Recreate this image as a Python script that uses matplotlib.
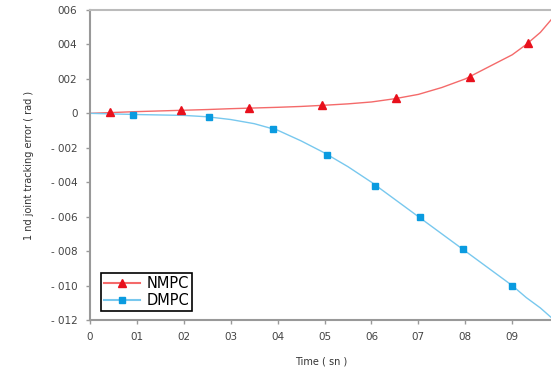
import matplotlib.pyplot as plt
from matplotlib.lines import Line2D

# curve samples
t_line = [0.0, 0.1, 0.2, 0.25, 0.3, 0.35, 0.4, 0.45, 0.5, 0.55, 0.6, 0.65,
          0.7, 0.75, 0.8, 0.85, 0.9, 0.93, 0.96, 0.985]
nmpc_line = [0.0, 0.0001, 0.00018, 0.00022, 0.00027, 0.00031, 0.00035, 0.0004,
             0.00047, 0.00055, 0.00066, 0.00085, 0.0011, 0.0015, 0.002,
             0.0027, 0.0034, 0.004, 0.0047, 0.0055]
dmpc_line = [0.0, -0.00007, -0.00012, -0.0002, -0.00036, -0.0006, -0.00098,
             -0.0016, -0.0023, -0.0031, -0.004, -0.005, -0.006, -0.007,
             -0.008, -0.009, -0.0100, -0.0107, -0.0113, -0.0119]

# marker positions
t_nmpc = [0.043, 0.194, 0.338, 0.494, 0.652, 0.810, 0.934]
nmpc_pts = [0.00006, 0.00017, 0.0003, 0.00046, 0.00087, 0.0021, 0.0041]
t_dmpc = [0.092, 0.254, 0.391, 0.506, 0.607, 0.703, 0.795, 0.900]
dmpc_pts = [-0.0001, -0.0002, -0.0009, -0.0024, -0.0042, -0.0060, -0.0079, -0.0100]

xticks = [0, 0.1, 0.2, 0.3, 0.4, 0.5, 0.6, 0.7, 0.8, 0.9]
xlabels = ['0', '01', '02', '03', '04', '05', '06', '07', '08', '09']
yticks = [0.006, 0.004, 0.002, 0, -0.002, -0.004, -0.006, -0.008, -0.010, -0.012]
ylabels = ['006', '004', '002', '0', '- 002', '- 004', '- 006', '- 008', '- 010', '- 012']

red_line, red_mk = '#f46a6a', '#e8101c'
blue_line, blue_mk = '#78c8ee', '#0a9be0'

fig = plt.figure(figsize=(5.51, 3.69), dpi=100)
ax = fig.add_axes([90/551, 1 - 320/369, 1 - 90/551 + 0.002, 310/369])

ax.plot(t_line, nmpc_line, color=red_line, lw=1.0)
ax.plot(t_line, dmpc_line, color=blue_line, lw=1.0)
ax.plot(t_nmpc, nmpc_pts, ls='none', marker='^', ms=5.5, color=red_mk)
ax.plot(t_dmpc, dmpc_pts, ls='none', marker='s', ms=4.5, color=blue_mk)

ax.set_xlim(0, 0.985)
ax.set_ylim(-0.012, 0.006)
ax.set_xticks(xticks)
ax.set_xticklabels(xlabels)
ax.set_yticks(yticks)
ax.set_yticklabels(ylabels)
ax.tick_params(direction='out', length=3, width=1, color='#999999',
               labelsize=7.5, labelcolor='#444444', pad=6)

for s in ['left', 'bottom']:
    ax.spines[s].set_color('#999999')
    ax.spines[s].set_linewidth(1.5)
ax.spines['top'].set_color('#bbbbbb')
ax.spines['top'].set_linewidth(1.5)
ax.spines['right'].set_visible(False)

ax.set_xlabel('Time ( sn )', fontsize=7, color='#333333', labelpad=10)
ax.set_ylabel('1 nd joint tracking error ( rad )', fontsize=7, color='#333333', labelpad=12)

handles = [Line2D([], [], color=red_line, marker='^', markerfacecolor=red_mk,
                  markeredgecolor=red_mk, ms=5.5),
           Line2D([], [], color=blue_line, marker='s', markerfacecolor=blue_mk,
                  markeredgecolor=blue_mk, ms=4.5)]
leg = ax.legend(handles, ['NMPC', 'DMPC'], loc='lower left',
                bbox_to_anchor=(0.024, 0.03), fontsize=10.5, fancybox=False,
                framealpha=1, edgecolor='black', borderpad=0.2,
                labelspacing=0.1, handlelength=2.5, handletextpad=0.4,
                borderaxespad=0)
leg.get_frame().set_linewidth(1.2)

plt.savefig('out.png', dpi=100)
